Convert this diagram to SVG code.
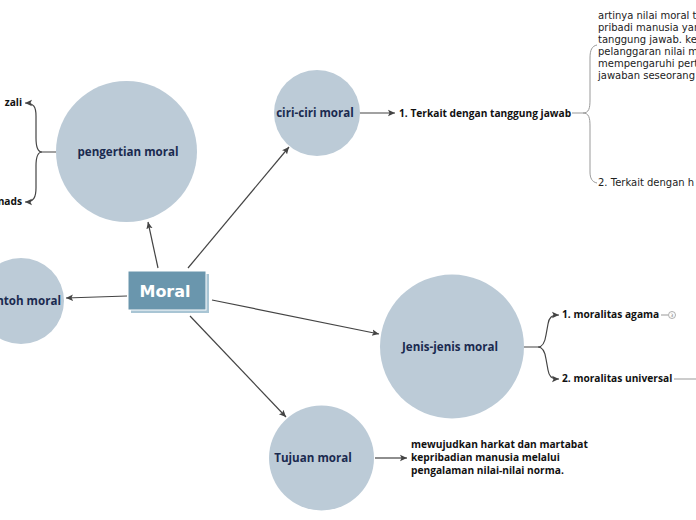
<svg xmlns="http://www.w3.org/2000/svg" width="696" height="520" viewBox="0 0 696 520">
<style>
.bub{fill:#bccbd7}
.lbl{font-family:"Open Sans","Noto Sans",sans-serif;font-weight:bold;font-size:11.6px;fill:#1a2a4f;text-anchor:middle}
.tn{font-family:"Open Sans","Noto Sans",sans-serif;font-weight:bold;font-size:10.2px;fill:#111}
.tr{font-family:"DejaVu Sans","Noto Sans",sans-serif;font-size:10px;fill:#222}
.con{stroke:#444;stroke-width:1.2;fill:none}
.ar{marker-end:url(#ah)}
.br{stroke:#999;stroke-width:1;fill:none}
</style>
<defs>
<marker id="ah" markerUnits="userSpaceOnUse" markerWidth="8" markerHeight="8" viewBox="0 0 8 8" refX="7" refY="4" orient="auto">
<path d="M0,0.8 L7,4 L0,7.2 L1.5,4 Z" fill="#444"/>
</marker>
</defs>
<g id="connectors">
<line class="con ar" x1="158" y1="268" x2="148" y2="222"/>
<line class="con ar" x1="188" y1="268" x2="289" y2="147"/>
<line class="con ar" x1="127" y1="296" x2="66" y2="298"/>
<line class="con ar" x1="212" y1="300" x2="379" y2="334"/>
<line class="con ar" x1="190" y1="316" x2="286" y2="417"/>
<line class="con ar" x1="360" y1="113" x2="395" y2="113"/>
<line class="con ar" x1="375" y1="458" x2="407" y2="458"/>
<path class="con ar" d="M56,152 L42,152 C37,152 36,146 36,138 L36,116 C36,107 34,103 25,103"/>
<path class="con ar" d="M42,152 C37,152 36,158 36,166 L36,188 C36,197 34,202 25,202"/>
<path class="con ar" d="M524,347 L538,347 C543,347 545,342 546,335 L548,324 C549,318 551,315 559,315"/>
<path class="con ar" d="M538,347 C543,347 545,352 546,359 L548,370 C549,376 551,379 559,379"/>
<path class="br" d="M572,113 L583,113 C589,113 590,108 590,100 L590,58 C590,50 592,46 597,45"/>
<path class="br" d="M583,113 C589,113 590,118 590,126 L590,172 C590,178 592,182 597,183"/>
<line class="br" x1="661" y1="315" x2="668" y2="315"/>
<line class="br" x1="674" y1="379" x2="696" y2="379"/>
</g>
<g id="moral">
<rect x="131" y="274" width="78" height="39" fill="#a9c5d4"/>
<rect x="128" y="271" width="78" height="39" fill="#6a96ad" stroke="#fff" stroke-width="1"/>
<text x="165" y="297" text-anchor="middle" font-family="DejaVu Sans, sans-serif" font-weight="bold" font-size="16" fill="#fff">Moral</text>
</g>
<g id="pengertian">
<circle class="bub" cx="126.5" cy="151.5" r="70.5"/>
<text class="lbl" x="128" y="156">pengertian moral</text>
</g>
<g id="ciri">
<circle class="bub" cx="317" cy="113" r="43"/>
<text class="lbl" x="315" y="117">ciri-ciri moral</text>
</g>
<g id="contoh">
<circle class="bub" cx="21" cy="301" r="43"/>
<text class="lbl" x="22" y="305">contoh moral</text>
</g>
<g id="jenis">
<circle class="bub" cx="452" cy="346.5" r="72"/>
<text class="lbl" x="450" y="351">Jenis-jenis moral</text>
</g>
<g id="tujuan">
<circle class="bub" cx="321.5" cy="458" r="52.5"/>
<text class="lbl" x="313" y="462">Tujuan moral</text>
</g>
<g id="ghazali"><text class="tn" x="22" y="106" text-anchor="end">zali</text></g>
<g id="ads"><text class="tn" x="22" y="205" text-anchor="end">nads</text></g>
<g id="terkait1"><text class="tn" x="399" y="117">1. Terkait dengan tanggung jawab</text></g>
<g id="artinya">
<text class="tr" x="598" y="19">artinya nilai moral t</text>
<text class="tr" x="598" y="31">pribadi manusia yan</text>
<text class="tr" x="598" y="43">tanggung jawab. ke</text>
<text class="tr" x="598" y="55">pelanggaran nilai m</text>
<text class="tr" x="598" y="67">mempengaruhi pert</text>
<text class="tr" x="598" y="79">jawaban seseorang</text>
</g>
<g id="terkait2"><text class="tr" x="598" y="186">2. Terkait dengan h</text></g>
<g id="agama">
<text class="tn" x="562" y="318">1. moralitas agama</text>
<circle cx="672" cy="315" r="3.5" fill="#fff" stroke="#999" stroke-width="0.8"/>
<text x="672" y="317" text-anchor="middle" font-family="DejaVu Sans, sans-serif" font-size="4.5" fill="#777">3</text>
</g>
<g id="universal"><text class="tn" x="562" y="382">2. moralitas universal</text></g>
<g id="tujuantext">
<text class="tn" x="411" y="448">mewujudkan harkat dan martabat</text>
<text class="tn" x="411" y="461">kepribadian manusia melalui</text>
<text class="tn" x="411" y="474">pengalaman nilai-nilai norma.</text>
</g>
</svg>
